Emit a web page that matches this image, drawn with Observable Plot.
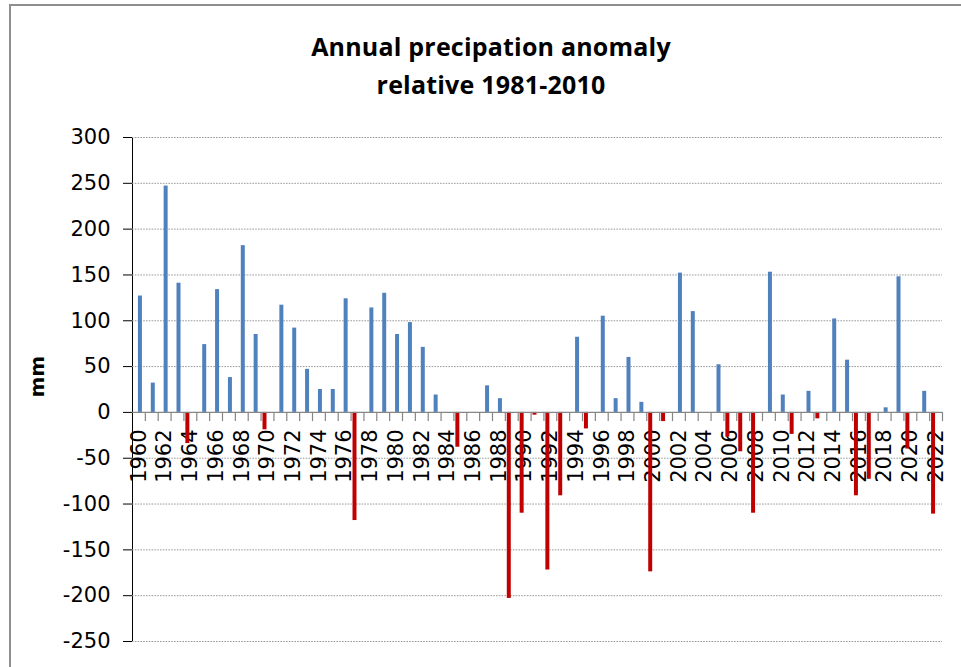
<!DOCTYPE html>
<html><head><meta charset="utf-8">
<script src="https://cdn.jsdelivr.net/npm/d3@7"></script>
<script src="https://cdn.jsdelivr.net/npm/@observablehq/plot@0.6"></script>
<style>
body{margin:0;background:#fff;}
#wrap{position:relative;width:961px;height:667px;overflow:hidden;background:#fff;}
#border{position:absolute;left:9px;top:4px;width:2000px;height:2000px;border-left:2px solid #8e8e8e;border-top:2px solid #8e8e8e;}
.title{position:absolute;left:0;width:982px;text-align:center;font-family:"Open Sans";font-weight:700;font-size:25px;color:#000;line-height:32px;letter-spacing:0.2px;}
#chart{position:absolute;left:0;top:110px;}
#chart svg [aria-label="y-axis"] line, #chart svg [aria-label="y-axis"] path{stroke:#868686;}
</style></head><body>
<div id="wrap"><div id="border"></div>
<div class="title" style="top:30px">Annual precipation anomaly</div>
<div class="title" style="top:68px">relative 1981-2010</div>
<div id="chart"></div></div>
<script>
const years = d3.range(1960, 2023);
const anomaly = [
  127, 32, 247, 141, -34, 74, 134, 38, 182, 85,
  -19, 117, 92, 47, 25, 25, 124, -118, 114, 130,
  85, 98, 71, 19, 0, -38, 0, 29, 15, -203,
  -110, -3, -172, -91, 82, -18, 105, 15, 60, 11,
  -174, -10, 152, 110, 0, 52, -27, -43, -110, 153,
  19, -24, 23, -7, 102, 57, -91, -73, 5, 148,
  -40, 23, -111
];
const yTicks = [300, 250, 200, 150, 100, 50, 0, -50, -100, -150, -200, -250];
const yearLabels = years.filter(y => (y - 1960) % 2 === 0);

const data = years.map((year, i) => ({year, value: anomaly[i]}));
const W = 961, H = 557, mL = 132, mR = 19, mT = 27, mB = 26;
const step = (W - mL - mR) / years.length;

const chart = Plot.plot({
  width: W, height: H,
  marginLeft: mL, marginRight: mR, marginTop: mT, marginBottom: mB,
  style: {fontFamily: "DejaVu Sans", fontSize: "21px", color: "#000", background: "transparent"},
  x: {type: "band", domain: years, paddingInner: 0.69, paddingOuter: 0.345, align: 0.5, axis: null},
  y: {domain: [-250, 300], ticks: yTicks, tickSize: 9, tickPadding: 13, label: null, line: true, tickFormat: d => String(d)},
  marks: [
    Plot.ruleY(yTicks.filter(v => v !== 0), {stroke: "#9a9a9a", strokeDasharray: "1.6,1.2", strokeWidth: 1}),
    Plot.text(yearLabels, {x: d => d, y: 0, text: d => String(d), rotate: -90, textAnchor: "end", dy: 17, fontSize: 21, fill: "#000"}),
    Plot.barY(data.filter(d => d.value > 0), {x: "year", y: "value", fill: "#4F81BD", dx: 1.5}),
    Plot.barY(data.filter(d => d.value < 0), {x: "year", y: "value", fill: "#C00000", dx: -2.5}),
    Plot.ruleY([0], {stroke: "#868686", strokeWidth: 1.2}),
    Plot.ruleX(years, {x: d => d, y1: 0, y2: -10, dx: step / 2, stroke: "#868686", strokeWidth: 1.2}),
    Plot.text(["mm"], {frameAnchor: "left", text: d => d, dx: -95, dy: 8, rotate: -90, fontWeight: "bold", fontSize: 20, fill: "#000"})
  ]
});
document.getElementById("chart").appendChild(chart);
</script>
</body></html>
